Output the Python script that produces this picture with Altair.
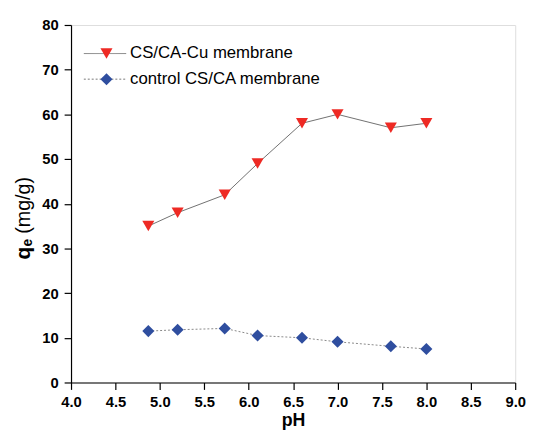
import altair as alt
import pandas as pd

ph = [4.87, 5.2, 5.73, 6.1, 6.6, 7.0, 7.6, 8.0]
cu = [35.0, 38.0, 42.0, 49.0, 58.0, 60.0, 57.0, 58.0]
control = [11.5, 11.8, 12.1, 10.5, 10.0, 9.1, 8.1, 7.5]
series_names = ["CS/CA-Cu membrane", "control CS/CA membrane"]
x_ticks = [4.0 + 0.25 * i for i in range(21)]
y_ticks = [5 * i for i in range(17)]
y_title_parts = ["q", "e", "(mg/g)"]

df_cu = pd.DataFrame({"pH": ph, "q": cu})
df_ct = pd.DataFrame({"pH": ph, "q": control})

FONT = "Liberation Sans"
RED = "#ee2a24"
BLUE = "#2f4e9f"

xscale = alt.Scale(domain=[4.0, 9.0], nice=False, zero=False)
yscale = alt.Scale(domain=[0, 80], nice=False)

xaxis = alt.Axis(
    values=x_ticks,
    labelExpr="(datum.value*2) % 1 == 0 ? format(datum.value, '.1f') : ''",
    tickSize={"condition": {"test": "(datum.value*2) % 1 == 0", "value": 7}, "value": 4},
    grid=False, domainColor="black", tickColor="black", domainWidth=1.2, tickWidth=1.2,
    labelFont=FONT, labelFontSize=15, labelFontWeight="bold", labelColor="black",
    titleFont=FONT, titleFontSize=18, titleFontWeight="bold", titleColor="black",
    title="pH", labelPadding=5, titlePadding=3, labelFlush=False, labelOverlap=False,
)
yaxis = alt.Axis(
    values=y_ticks,
    labelExpr="datum.value % 10 == 0 ? format(datum.value, 'd') : ''",
    tickSize={"condition": {"test": "datum.value % 10 == 0", "value": 7}, "value": 4},
    grid=False, domainColor="black", tickColor="black", domainWidth=1.2, tickWidth=1.2,
    labelFont=FONT, labelFontSize=15, labelFontWeight="bold", labelColor="black",
    title=None, labelPadding=6, labelFlush=False, labelOverlap=False,
)

line_cu = alt.Chart(df_cu).mark_line(color="#707070", strokeWidth=1).encode(
    x=alt.X("pH:Q", scale=xscale, axis=xaxis),
    y=alt.Y("q:Q", scale=yscale, axis=yaxis),
)
pts_cu = alt.Chart(df_cu).mark_point(shape="triangle-down", filled=True, color=RED, size=150, opacity=1).encode(
    x=alt.X("pH:Q", scale=xscale), y=alt.Y("q:Q", scale=yscale)
)
line_ct = alt.Chart(df_ct).mark_line(color="#888888", strokeWidth=1, strokeDash=[2, 2]).encode(
    x=alt.X("pH:Q", scale=xscale), y=alt.Y("q:Q", scale=yscale)
)
pts_ct = alt.Chart(df_ct).mark_point(shape="diamond", filled=True, color=BLUE, size=150, opacity=1).encode(
    x=alt.X("pH:Q", scale=xscale), y=alt.Y("q:Q", scale=yscale)
)

# y-axis title with subscript and mixed weight
def ytext(txt, xpos, ypos, size, weight):
    return alt.Chart(pd.DataFrame({"t": [txt]})).mark_text(
        align="left", baseline="middle", angle=270, font=FONT, fontSize=size,
        fontWeight=weight, color="black").encode(x=alt.value(xpos), y=alt.value(ypos), text="t:N")

ytitle = [
    ytext(y_title_parts[0], -48, 238, 21, "bold"),
    ytext(y_title_parts[1], -44, 225, 14, "bold"),
    ytext(y_title_parts[2], -48, 212, 20, "normal"),
]

# manual legend
leg = []
for i, (name, col, shp, dash) in enumerate([
    (series_names[0], RED, "triangle-down", [1, 0]),
    (series_names[1], BLUE, "diamond", [2, 2]),
]):
    yy = 29 + 26 * i
    leg.append(alt.Chart(pd.DataFrame({"a": [0]})).mark_rule(color="#777777", strokeWidth=1, strokeDash=dash).encode(
        x=alt.value(13), x2=alt.value(56), y=alt.value(yy)))
    leg.append(alt.Chart(pd.DataFrame({"a": [0]})).mark_point(shape=shp, filled=True, color=col, size=150, opacity=1).encode(
        x=alt.value(36), y=alt.value(yy)))
    leg.append(alt.Chart(pd.DataFrame({"t": [name]})).mark_text(
        align="left", baseline="middle", font=FONT, fontSize=17, color="black").encode(
        x=alt.value(60), y=alt.value(yy), text="t:N"))

chart = alt.layer(line_cu, line_ct, pts_cu, pts_ct, *ytitle, *leg).properties(
    width=451, height=363,
    autosize="none",
    padding={"left": 64, "top": 14, "right": 13, "bottom": 46},
).configure_view(stroke="black", strokeWidth=1.2).configure(background="white")

chart.save("out.html", embed_options={"renderer": "svg", "actions": False})
